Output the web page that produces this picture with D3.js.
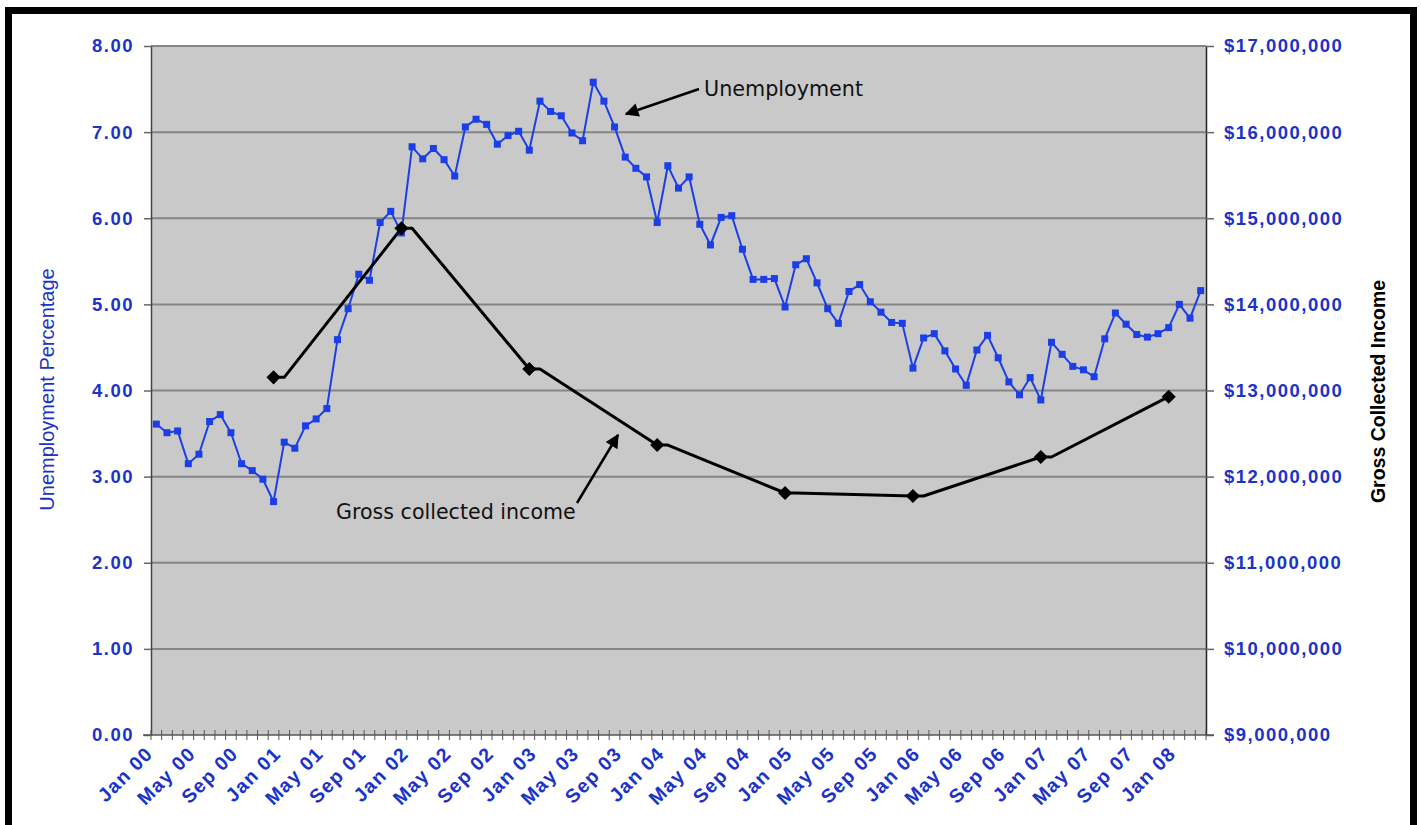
<!DOCTYPE html>
<html>
<head>
<meta charset="utf-8">
<script src="https://cdn.jsdelivr.net/npm/d3@7"></script>
<style>
  body { margin: 0; background: #fff; }
  svg { display: block; }
</style>
</head>
<body>
<div id="chart"></div>
<script>
(function () {
  // Category labels: monthly, Jan 00 .. Mar 08
  const monthNames = ["Jan", "Feb", "Mar", "Apr", "May", "Jun", "Jul", "Aug", "Sep", "Oct", "Nov", "Dec"];
  const yearLabels = ["00", "01", "02", "03", "04", "05", "06", "07", "08"];

  // Unemployment percentage, one value per month
  const unemployment = [
    3.61, 3.51, 3.53, 3.15, 3.26, 3.64, 3.72, 3.51, 3.15, 3.07, 2.97, 2.71,
    3.40, 3.33, 3.59, 3.67, 3.79, 4.59, 4.95, 5.35, 5.28, 5.95, 6.08, 5.83,
    6.83, 6.69, 6.81, 6.68, 6.49, 7.06, 7.15, 7.09, 6.86, 6.96, 7.01, 6.79,
    7.36, 7.24, 7.19, 6.99, 6.90, 7.58, 7.36, 7.06, 6.71, 6.58, 6.48, 5.95,
    6.61, 6.35, 6.48, 5.93, 5.69, 6.01, 6.03, 5.64, 5.29, 5.29, 5.30, 4.97,
    5.46, 5.53, 5.25, 4.95, 4.78, 5.15, 5.23, 5.03, 4.91, 4.79, 4.78, 4.26,
    4.61, 4.66, 4.46, 4.25, 4.06, 4.47, 4.64, 4.38, 4.10, 3.95, 4.15, 3.89,
    4.56, 4.42, 4.28, 4.24, 4.16, 4.60, 4.90, 4.77, 4.65, 4.62, 4.66, 4.73,
    5.00, 4.84, 5.16
  ];

  // Gross collected income, yearly (plotted at December)
  const incomeMonths = ["Dec 00", "Dec 01", "Dec 02", "Dec 03", "Dec 04", "Dec 05", "Dec 06", "Dec 07"];
  const incomeValues = [13153000, 14883000, 13250000, 12367000, 11810000, 11775000, 12228000, 12928000];

  // Axis ticks
  const leftTicks = [0, 1, 2, 3, 4, 5, 6, 7, 8];
  const rightTicks = [9000000, 10000000, 11000000, 12000000, 13000000, 14000000, 15000000, 16000000, 17000000];

  const months = [];
  yearLabels.forEach((y) => monthNames.forEach((m) => months.push(m + " " + y)));
  const categories = months.slice(0, unemployment.length);
  const labelEvery = 4;

  const width = 1421, height = 825;
  const plot = { left: 151, right: 1206, top: 46, bottom: 735 };
  const blue = "#1b3ee6";
  const labelBlue = "#1b33c9";
  const tickFont = "'Liberation Sans', Arial, sans-serif";

  const svg = d3.select("#chart").append("svg")
    .attr("width", width)
    .attr("height", height);

  const x = d3.scaleBand().domain(categories).range([plot.left, plot.right]);
  const cx = (d) => x(d) + x.bandwidth() / 2;
  const yL = d3.scaleLinear().domain([0, 8]).range([plot.bottom, plot.top]);
  const yR = d3.scaleLinear().domain([9000000, 17000000]).range([plot.bottom, plot.top]);

  // Plot background
  svg.append("rect")
    .attr("x", plot.left).attr("y", plot.top)
    .attr("width", plot.right - plot.left)
    .attr("height", plot.bottom - plot.top)
    .attr("fill", "#c9c9c9");

  // Gridlines
  svg.append("g")
    .selectAll("line")
    .data(leftTicks.filter((d) => d > 0))
    .join("line")
    .attr("x1", plot.left).attr("x2", plot.right)
    .attr("y1", (d) => yL(d)).attr("y2", (d) => yL(d))
    .attr("stroke", "#858585")
    .attr("stroke-width", 2);

  // Left axis
  const leftAxis = svg.append("g")
    .attr("transform", `translate(${plot.left},0)`)
    .call(d3.axisLeft(yL).tickValues(leftTicks).tickSize(7).tickSizeOuter(0).tickPadding(10).tickFormat(d3.format(".2f")));
  leftAxis.select(".domain").attr("stroke", "#444").attr("stroke-width", 1.5);
  leftAxis.selectAll(".tick line").attr("stroke", "#666").attr("stroke-width", 1.5);
  leftAxis.selectAll(".tick text")
    .attr("fill", labelBlue)
    .style("font-family", tickFont)
    .style("font-weight", "bold")
    .style("font-size", "18.5px")
    .style("letter-spacing", "1.5px");

  // Right axis
  const rightAxis = svg.append("g")
    .attr("transform", `translate(${plot.right},0)`)
    .call(d3.axisRight(yR).tickValues(rightTicks).tickSize(8).tickSizeOuter(0).tickPadding(10)
      .tickFormat((d) => "$" + d3.format(",")(d)));
  rightAxis.select(".domain").attr("stroke", "#222").attr("stroke-width", 1.5);
  rightAxis.selectAll(".tick line").attr("stroke", "#666").attr("stroke-width", 1.5);
  rightAxis.selectAll(".tick text")
    .attr("fill", labelBlue)
    .style("font-family", tickFont)
    .style("font-weight", "bold")
    .style("font-size", "18.5px")
    .style("letter-spacing", "1.5px");

  // Bottom (category) axis: ticks between months, labels every 4 months
  const bottom = svg.append("g");
  bottom.append("line")
    .attr("x1", plot.left - 8).attr("x2", plot.right + 8)
    .attr("y1", plot.bottom).attr("y2", plot.bottom)
    .attr("stroke", "#555").attr("stroke-width", 1.5);
  const boundaries = categories.map((d) => x(d)).concat([plot.right]);
  bottom.selectAll(".cat-tick")
    .data(boundaries)
    .join("line")
    .attr("class", "cat-tick")
    .attr("x1", (d) => d).attr("x2", (d) => d)
    .attr("y1", plot.bottom - 5).attr("y2", plot.bottom + 5)
    .attr("stroke", "#555").attr("stroke-width", 1);
  bottom.selectAll(".cat-label")
    .data(categories.filter((d, i) => i % labelEvery === 0))
    .join("text")
    .attr("class", "cat-label")
    .attr("transform", (d) => `translate(${cx(d) - 7},${plot.bottom + 15}) rotate(-45)`)
    .attr("text-anchor", "end")
    .attr("dy", "0.35em")
    .attr("fill", labelBlue)
    .style("font-family", tickFont)
    .style("font-weight", "bold")
    .style("font-size", "19.5px")
    .style("letter-spacing", "1.3px")
    .text((d) => d);

  // Unemployment line
  svg.append("path")
    .datum(unemployment)
    .attr("d", d3.line().x((d, i) => cx(categories[i])).y((d) => yL(d)))
    .attr("fill", "none")
    .attr("stroke", blue)
    .attr("stroke-width", 2);

  svg.append("g")
    .selectAll("rect")
    .data(unemployment)
    .join("rect")
    .attr("x", (d, i) => cx(categories[i]) - 3.5)
    .attr("y", (d) => yL(d) - 3.5)
    .attr("width", 7).attr("height", 7)
    .attr("fill", blue);

  // Gross collected income line (each value held from Dec into the next Jan)
  const incomePts = [];
  incomeMonths.forEach((m, i) => {
    incomePts.push([cx(m), yR(incomeValues[i])]);
    const next = categories[categories.indexOf(m) + 1];
    if (i < incomeMonths.length - 1 && next) incomePts.push([cx(next), yR(incomeValues[i])]);
  });
  svg.append("path")
    .datum(incomePts)
    .attr("d", d3.line())
    .attr("fill", "none")
    .attr("stroke", "#000")
    .attr("stroke-width", 3)
    .attr("stroke-linejoin", "round");

  svg.append("g")
    .selectAll("path")
    .data(incomeValues)
    .join("path")
    .attr("d", d3.symbol(d3.symbolSquare, 100))
    .attr("transform", (d, i) => `translate(${cx(incomeMonths[i])},${yR(d)}) rotate(45)`)
    .attr("fill", "#000");

  // Axis titles
  svg.append("text")
    .attr("transform", `translate(54,${(plot.top + plot.bottom) / 2 - 1}) rotate(-90)`)
    .attr("text-anchor", "middle")
    .attr("fill", labelBlue)
    .style("font-family", tickFont)
    .style("font-size", "20px")
    .text("Unemployment Percentage");

  svg.append("text")
    .attr("transform", `translate(1385,${(plot.top + plot.bottom) / 2 + 1}) rotate(-90)`)
    .attr("text-anchor", "middle")
    .attr("fill", "#000")
    .style("font-family", tickFont)
    .style("font-weight", "bold")
    .style("font-size", "19.5px")
    .text("Gross Collected Income");

  // Annotations
  svg.append("defs").append("marker")
    .attr("id", "arrow")
    .attr("viewBox", "0 0 10 10")
    .attr("refX", 9).attr("refY", 5)
    .attr("markerWidth", 7).attr("markerHeight", 5.5)
    .attr("orient", "auto")
    .append("path")
    .attr("d", "M0,0 L10,5 L0,10 Z")
    .attr("fill", "#000");

  const annFont = "'DejaVu Sans', sans-serif";
  svg.append("text")
    .attr("x", 704).attr("y", 96)
    .style("font-family", annFont)
    .style("font-size", "20.7px")
    .attr("fill", "#111")
    .text("Unemployment");
  svg.append("line")
    .attr("x1", 699).attr("y1", 89)
    .attr("x2", 626).attr("y2", 114)
    .attr("stroke", "#000").attr("stroke-width", 2.5)
    .attr("marker-end", "url(#arrow)");

  svg.append("text")
    .attr("x", 336).attr("y", 519)
    .style("font-family", annFont)
    .style("font-size", "20.6px")
    .attr("fill", "#111")
    .text("Gross collected income");
  svg.append("line")
    .attr("x1", 577).attr("y1", 503)
    .attr("x2", 618).attr("y2", 435)
    .attr("stroke", "#000").attr("stroke-width", 2.5)
    .attr("marker-end", "url(#arrow)");

  // Outer frame
  svg.append("rect")
    .attr("x", 8.5).attr("y", 10.5)
    .attr("width", 1405).attr("height", 900)
    .attr("fill", "none")
    .attr("stroke", "#000")
    .attr("stroke-width", 7);
})();
</script>
</body>
</html>
